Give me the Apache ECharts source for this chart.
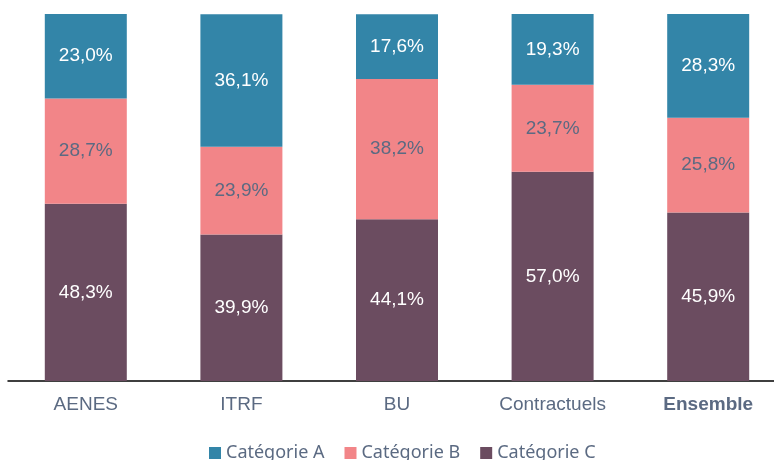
<!DOCTYPE html>
<html><head><meta charset="utf-8">
<script src="https://cdn.jsdelivr.net/npm/echarts@6/dist/echarts.min.js"></script>
<style>html,body{margin:0;padding:0;background:#fff;overflow:hidden}#c{width:774px;height:460px}</style>
</head><body><div id="c"></div>
<script>
const categories = ['AENES', 'ITRF', 'BU', 'Contractuels', 'Ensemble'];
const catA = [23.0, 36.1, 17.6, 19.3, 28.3];
const catB = [28.7, 23.9, 38.2, 23.7, 25.8];
const catC = [48.3, 39.9, 44.1, 57.0, 45.9];
const seriesNames = ['Catégorie A', 'Catégorie B', 'Catégorie C'];
const colors = ['#3385a8', '#f28588', '#6b4c60'];
const labelColors = ['#ffffff', '#5b6a82', '#ffffff'];
const ARIAL = '"Liberation Sans", Arial, sans-serif';

const fmt = p => p.value.toFixed(1).replace('.', ',') + '%';
const mk = (name, data, i) => ({
  name, type: 'bar', stack: 'total', data, barWidth: 82,
  itemStyle: { color: colors[i] },
  label: { show: true, position: 'inside', formatter: fmt, color: labelColors[i],
    fontFamily: ARIAL, fontSize: 19 }
});
const chart = echarts.init(document.getElementById('c'));
chart.setOption({
  animation: false,
  grid: { left: 8, width: 778, top: 14, bottom: 79, outerBoundsMode: 'none', containLabel: false },
  legend: {
    data: seriesNames, top: 439, left: 204, itemWidth: 12, itemHeight: 12, itemGap: 20,
    icon: 'rect',
    textStyle: { fontFamily: '"Noto Sans", "Open Sans", sans-serif', fontSize: 18, color: '#5b6a82' }
  },
  xAxis: {
    type: 'category', data: categories,
    axisLine: { lineStyle: { color: '#000', width: 1.5 } },
    axisTick: { show: false },
    axisLabel: {
      margin: 14, fontFamily: ARIAL, fontSize: 19, color: '#5b6a82',
      formatter: v => v === 'Ensemble' ? '{b|' + v + '}' : v,
      rich: { b: { fontWeight: 'bold', fontFamily: ARIAL, fontSize: 19, color: '#5b6a82' } }
    }
  },
  yAxis: { type: 'value', min: 0, max: 100, show: false, splitLine: { show: false } },
  series: [mk(seriesNames[2], catC, 2), mk(seriesNames[1], catB, 1), mk(seriesNames[0], catA, 0)]
});
</script></body></html>
